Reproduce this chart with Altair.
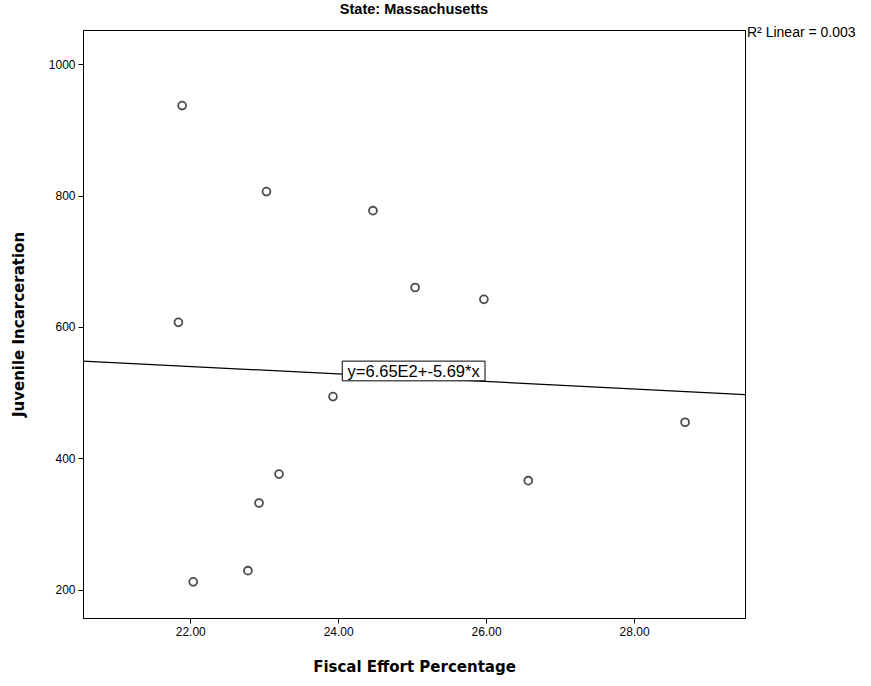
import altair as alt
import pandas as pd

# Fiscal effort (%) and juvenile incarceration, Massachusetts
fiscal_effort = [21.89, 23.03, 24.47, 25.04, 21.84, 25.97, 28.69,
                 23.93, 23.20, 22.93, 22.78, 22.04, 26.57]
incarceration = [937, 806, 777, 660, 607, 642, 455,
                 494, 376, 332, 229, 212, 366]

# Linear fit reported on the chart
intercept = 665.0
slope = -5.69
r_squared = "0.003"

x_domain = [20.55, 29.5]
y_domain = [157, 1052]
x_ticks = [22, 24, 26, 28]
y_ticks = [200, 400, 600, 800, 1000]

# Equation label box (data coordinates)
label_x = 25.02
label_y = 533
label_half_w = 0.965
label_half_h = 15

points = pd.DataFrame({"x": fiscal_effort, "y": incarceration})
fit = pd.DataFrame({"x": x_domain,
                    "y": [intercept + slope * v for v in x_domain]})
label = pd.DataFrame({
    "x": [label_x - label_half_w], "x2": [label_x + label_half_w],
    "y": [label_y - label_half_h], "y2": [label_y + label_half_h],
    "xc": [label_x], "yc": [label_y],
    "text": [f"y={intercept / 100:.2f}E2+{slope:.2f}*x"],
})
r2 = pd.DataFrame({"text": [f"R² Linear = {r_squared}"]})

x_scale = alt.Scale(domain=x_domain, nice=False, zero=False)
y_scale = alt.Scale(domain=y_domain, nice=False, zero=False)

x_enc = alt.X("x:Q", scale=x_scale, title="Fiscal Effort Percentage",
              axis=alt.Axis(values=x_ticks, format=".2f", titleX=331,
                            titleY=48, titleBaseline="middle"))
y_enc = alt.Y("y:Q", scale=y_scale, title="Juvenile Incarceration",
              axis=alt.Axis(values=y_ticks, format="d", titleX=-65,
                            titleY=294, titleAlign="center",
                            titleBaseline="middle"))

dots = alt.Chart(points).mark_point(
    shape="circle", filled=False, color="black", size=62, strokeWidth=1.8
).encode(x=x_enc, y=y_enc)

line = alt.Chart(fit).mark_line(color="black", strokeWidth=1.3).encode(
    x="x:Q", y="y:Q")

box = alt.Chart(label).mark_rect(
    fill="white", stroke="black", strokeWidth=1
).encode(x="x:Q", x2="x2:Q", y="y:Q", y2="y2:Q")

eq_text = alt.Chart(label).mark_text(
    font="Liberation Sans", fontSize=16.5, color="black",
    align="center", baseline="middle", dy=1
).encode(x="xc:Q", y="yc:Q", text="text:N")

r2_text = alt.Chart(r2).mark_text(
    font="Liberation Sans", fontSize=14, color="black",
    align="left", baseline="middle"
).encode(x=alt.value(664), y=alt.value(3), text="text:N")

chart = alt.layer(dots, line, box, eq_text, r2_text).properties(
    width=662,
    height=588,
    title=alt.TitleParams("State: Massachusetts", anchor="middle",
                          font="Liberation Sans", fontSize=14.5,
                          fontWeight="bold", color="black", offset=9),
    autosize=alt.AutoSizeParams(type="none"),
    padding={"left": 83, "top": 30, "right": 126, "bottom": 68},
).configure_view(
    stroke="black", strokeWidth=1
).configure_axis(
    grid=False, domainColor="black", tickColor="black", tickSize=5,
    labelFont="Liberation Sans", labelFontSize=12, labelColor="black",
    labelPadding=3,
    titleFont="DejaVu Sans", titleFontSize=15, titleFontWeight="bold",
    titleColor="black",
)

chart.save("out.html", embed_options={"renderer": "svg", "actions": False})
